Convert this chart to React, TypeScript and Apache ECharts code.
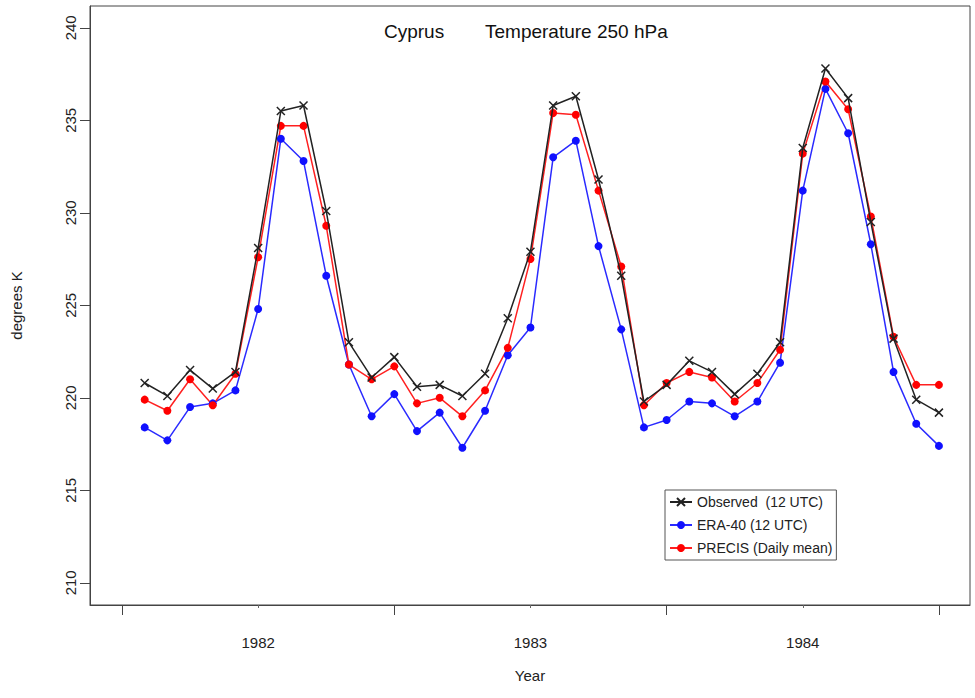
import React, { useEffect, useRef } from "react";
import * as echarts from "echarts";

const observed = [220.8, 220.1, 221.5, 220.5, 221.4, 228.1, 235.5, 235.8, 230.1, 223.0, 221.1, 222.2, 220.6, 220.7, 220.1, 221.3, 224.3, 227.9, 235.8, 236.3, 231.8, 226.6, 219.8, 220.7, 222.0, 221.4, 220.2, 221.3, 223.0, 233.5, 237.8, 236.2, 229.5, 223.2, 219.9, 219.2];
const era40 = [218.4, 217.7, 219.5, 219.7, 220.4, 224.8, 234.0, 232.8, 226.6, 221.8, 219.0, 220.2, 218.2, 219.2, 217.3, 219.3, 222.3, 223.8, 233.0, 233.9, 228.2, 223.7, 218.4, 218.8, 219.8, 219.7, 219.0, 219.8, 221.9, 231.2, 236.7, 234.3, 228.3, 221.4, 218.6, 217.4];
const precis = [219.9, 219.3, 221.0, 219.6, 221.3, 227.6, 234.7, 234.7, 229.3, 221.8, 221.0, 221.7, 219.7, 220.0, 219.0, 220.4, 222.7, 227.5, 235.4, 235.3, 231.2, 227.1, 219.6, 220.8, 221.4, 221.1, 219.8, 220.8, 222.6, 233.2, 237.1, 235.6, 229.8, 223.3, 220.7, 220.7];

const yearLabels = ["1982", "1983", "1984"];
const yearLabelPositions = [5, 17, 29];
const yearTickPositions = [-1, 11, 23, 35];
const yTicks = [210, 215, 220, 225, 230, 235, 240];
const seriesNames = ["Observed  (12 UTC)", "ERA-40 (12 UTC)", "PRECIS (Daily mean)"];

const FONT = "Liberation Sans, Arial, Helvetica, sans-serif";
const CROSS = "path://M0,0L10,10M10,0L0,10";

export default function App() {
  const ref = useRef<HTMLDivElement>(null);
  useEffect(() => {
    if (!ref.current) return;
    const chart = echarts.init(ref.current, null, { renderer: "svg" });
    const toPts = (arr: number[]) => arr.map((v, i) => [i, v]);
    chart.setOption({
      animation: false,
      backgroundColor: "#ffffff",
      textStyle: { fontFamily: FONT },
      title: [
        { text: "Cyprus", left: 379, top: 17, textStyle: { fontSize: 19, fontWeight: "normal", color: "#111", fontFamily: FONT } },
        { text: "Temperature 250 hPa", left: 480, top: 17, textStyle: { fontSize: 19, fontWeight: "normal", color: "#111", fontFamily: FONT } },
      ],
      legend: {
        orient: "vertical",
        left: 665,
        top: 490,
        itemWidth: 22,
        itemHeight: 10,
        itemGap: 9,
        padding: [5, 4, 5, 4],
        borderColor: "#555",
        borderWidth: 1,
        textStyle: { fontSize: 14, color: "#222", fontFamily: FONT },
        data: seriesNames,
      },
      grid: {
        left: 90,
        right: 5,
        top: 6,
        bottom: 93,
        show: true,
        borderColor: "#444",
        borderWidth: 1,
        containLabel: false,
      },
      xAxis: [
        {
          type: "value",
          min: -2.41,
          max: 36.37,
          name: "Year",
          nameLocation: "middle",
          nameGap: 63,
          nameTextStyle: { fontSize: 15, color: "#222", fontFamily: FONT },
          axisLine: { show: true, onZero: false, lineStyle: { color: "#444", width: 1 } },
          axisTick: { show: true, length: 10, customValues: yearTickPositions, lineStyle: { color: "#444" } },
          axisLabel: {
            show: true,
            customValues: yearLabelPositions,
            margin: 30,
            fontSize: 15,
            color: "#222",
            fontFamily: FONT,
            formatter: (v: number) => {
              const idx = yearLabelPositions.indexOf(Math.round(v));
              return idx >= 0 ? yearLabels[idx] : "";
            },
          },
          splitLine: { show: false },
        },
        {
          type: "value",
          min: -2.41,
          max: 36.37,
          position: "bottom",
          axisLine: { show: false },
          axisTick: { show: true, length: 3, customValues: yearLabelPositions, lineStyle: { color: "#666" } },
          axisLabel: { show: false },
          splitLine: { show: false },
        },
      ],
      yAxis: {
        type: "value",
        min: 208.8,
        max: 241.18,
        name: "degrees K",
        nameLocation: "middle",
        nameGap: 66,
        nameTextStyle: { fontSize: 15, color: "#222", fontFamily: FONT },
        axisLine: { show: true, onZero: false, lineStyle: { color: "#444", width: 1 } },
        axisTick: { show: true, length: 10, customValues: yTicks, lineStyle: { color: "#444" } },
        axisLabel: {
          show: true,
          customValues: yTicks,
          rotate: 90,
          margin: 12,
          fontSize: 15,
          color: "#222",
          fontFamily: FONT,
        },
        splitLine: { show: false },
      },
      series: [
        {
          name: seriesNames[0],
          type: "line",
          data: toPts(observed),
          symbol: CROSS,
          symbolSize: 8,
          lineStyle: { color: "#222", width: 1.5 },
          itemStyle: { color: "#222", borderColor: "#222", borderWidth: 1.5 },
          z: 3,
        },
        {
          name: seriesNames[1],
          type: "line",
          data: toPts(era40),
          symbol: "circle",
          symbolSize: 8,
          lineStyle: { color: "#2a2aff", width: 1.5 },
          itemStyle: { color: "#1010ff", borderWidth: 0 },
          z: 2,
        },
        {
          name: seriesNames[2],
          type: "line",
          data: toPts(precis),
          symbol: "circle",
          symbolSize: 8,
          lineStyle: { color: "#ff2020", width: 1.5 },
          itemStyle: { color: "#ff0000", borderWidth: 0 },
          z: 2,
        },
      ],
    });
    return () => chart.dispose();
  }, []);
  return (
    <div
      ref={ref}
      style={{ position: "absolute", left: 0, top: 0, width: 975, height: 698, background: "#fff" }}
    />
  );
}
